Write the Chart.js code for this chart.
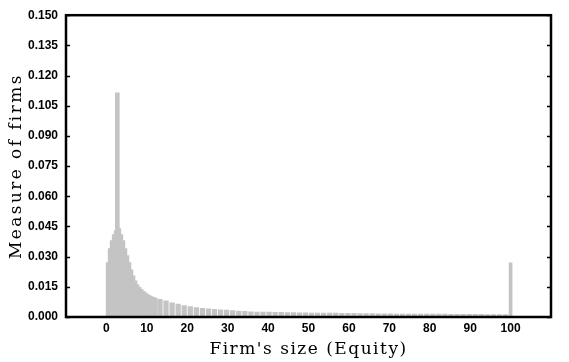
<!DOCTYPE html>
<html>
<head>
<meta charset="utf-8">
<script src="https://cdn.jsdelivr.net/npm/chart.js@4/dist/chart.umd.min.js"></script>
<style>
html,body{margin:0;padding:0;background:#fff;}
canvas{display:block;}
</style>
</head>
<body>
<canvas id="c" width="569" height="362"></canvas>
<script>
// Dense part of the distribution (bin centres, equity units)
const denseX = [0.25,0.75,1.25,1.75,2.25,2.75,3.25,3.75,4.25,4.75,5.25,5.75,6.25,6.75,7.25,7.75,8.25,8.75,9.25,9.75,10.25,10.75,11.25,11.75,12.25];
const denseY = [0.027,0.034,0.038,0.041,0.043,0.0445,0.044,0.041,0.038,0.034,0.0305,0.027,0.0235,0.0205,0.018,0.016,0.0148,0.0138,0.0128,0.012,0.0113,0.0107,0.0102,0.0098,0.0094];
// Tail of the distribution
const tailX = [13.25,14.75,16.25,17.75,19.25,20.75,22.25,23.75,25.25,26.75,28.25,29.75,31.25,32.75,34.25,35.75,37.25,38.75,40.25,41.75,43.25,44.75,46.25,47.75,49.25,50.75,52.25,53.75,55.25,56.75,58.25,59.75,61.25,62.75,64.25,65.75,67.25,68.75,70.25,71.75,73.25,74.75,76.25,77.75,79.25,80.75,82.25,83.75,85.25,86.75,88.25,89.75,91.25,92.75,94.25,95.75,97.25,98.75];
const tailY = [0.0088,0.008,0.0071,0.0064,0.0057,0.0052,0.0047,0.0043,0.004,0.0038,0.0036,0.0034,0.0032,0.003,0.0028,0.0026,0.0025,0.0024,0.0024,0.0023,0.0023,0.0022,0.0022,0.0021,0.0021,0.002,0.002,0.0019,0.0019,0.0019,0.0018,0.0018,0.0018,0.0017,0.0017,0.0017,0.0016,0.0016,0.0016,0.0015,0.0015,0.0015,0.0015,0.0014,0.0014,0.0014,0.0014,0.0014,0.0013,0.0013,0.0013,0.0013,0.0013,0.0013,0.0012,0.0012,0.0012,0.0012];
// Mass points
const spikeX = [2.7];
const spikeY = [0.1114];
const capX = [100];
const capY = [0.0269];
// Tick labels
const xTicks = [0,10,20,30,40,50,60,70,80,90,100];
const yTicks = [0,0.015,0.03,0.045,0.06,0.075,0.09,0.105,0.12,0.135,0.15];

const barColor = '#c4c4c4';
const pts = (xs, ys) => xs.map((x, i) => ({x: x, y: ys[i]}));

const titleSpacing = {x: '1.5px', y: '2.4px'};
const framePlugin = {
  id: 'frame',
  beforeDraw(chart) {
    ['x', 'y'].forEach(id => {
      const s = chart.scales[id];
      if (s && !s._spaced) {
        const orig = s.drawTitle;
        s.drawTitle = function () {
          const ctx = this.ctx;
          ctx.save();
          ctx.letterSpacing = titleSpacing[id];
          orig.call(this);
          ctx.restore();
        };
        s._spaced = true;
      }
    });
  },
  afterDraw(chart) {
    const {ctx, chartArea: a, scales} = chart;
    ctx.save();
    ctx.strokeStyle = '#000';
    ctx.lineWidth = 1.5;
    ctx.beginPath();
    yTicks.forEach(v => {
      const py = Math.round(scales.y.getPixelForValue(v)) + 0.5;
      ctx.moveTo(a.left, py); ctx.lineTo(a.left + 4, py);
      ctx.moveTo(a.right - 4, py); ctx.lineTo(a.right, py);
    });
    ctx.stroke();
    ctx.lineWidth = 2.5;
    ctx.strokeRect(a.left, a.top, a.right - a.left, a.bottom - a.top);
    ctx.restore();
  }
};

new Chart(document.getElementById('c'), {
  type: 'bar',
  data: {
    datasets: [
      {data: pts(spikeX, spikeY), backgroundColor: barColor, barThickness: 4, grouped: false},
      {data: pts(capX, capY), backgroundColor: barColor, barThickness: 3, grouped: false},
      {data: pts(denseX, denseY), backgroundColor: barColor, barThickness: 2.6, grouped: false},
      {data: pts(tailX, tailY), backgroundColor: barColor, barThickness: 4.6, grouped: false}
    ]
  },
  options: {
    responsive: false,
    animation: false,
    layout: {padding: {top: 9, right: 18, left: 0, bottom: 0}},
    plugins: {legend: {display: false}, tooltip: {enabled: false}},
    scales: {
      x: {
        type: 'linear', min: -10, max: 110, offset: false,
        afterBuildTicks(s) { s.ticks = xTicks.map(v => ({value: v})); },
        afterFit(s) { s.height = 45; },
        grid: {display: false, drawTicks: false},
        border: {display: false},
        ticks: {padding: 4, color: '#000', font: {family: 'Liberation Sans', size: 12, weight: 'bold'}, maxRotation: 0, autoSkip: false},
        title: {display: true, text: "Firm's size (Equity)", color: '#000', font: {family: 'DejaVu Serif', size: 17}, padding: {top: 0, bottom: 2}}
      },
      y: {
        min: 0, max: 0.15,
        afterBuildTicks(s) { s.ticks = yTicks.map(v => ({value: v})); },
        afterFit(s) { s.width = 66; },
        grid: {display: false, drawTicks: false},
        border: {display: false},
        ticks: {padding: 8, color: '#000', font: {family: 'Liberation Sans', size: 12, weight: 'bold'}, callback: v => v.toFixed(3), autoSkip: false},
        title: {display: true, text: 'Measure of firms', color: '#000', font: {family: 'DejaVu Serif', size: 17}, padding: {top: 6, bottom: 0}}
      }
    }
  },
  plugins: [framePlugin]
});
</script>
</body>
</html>
